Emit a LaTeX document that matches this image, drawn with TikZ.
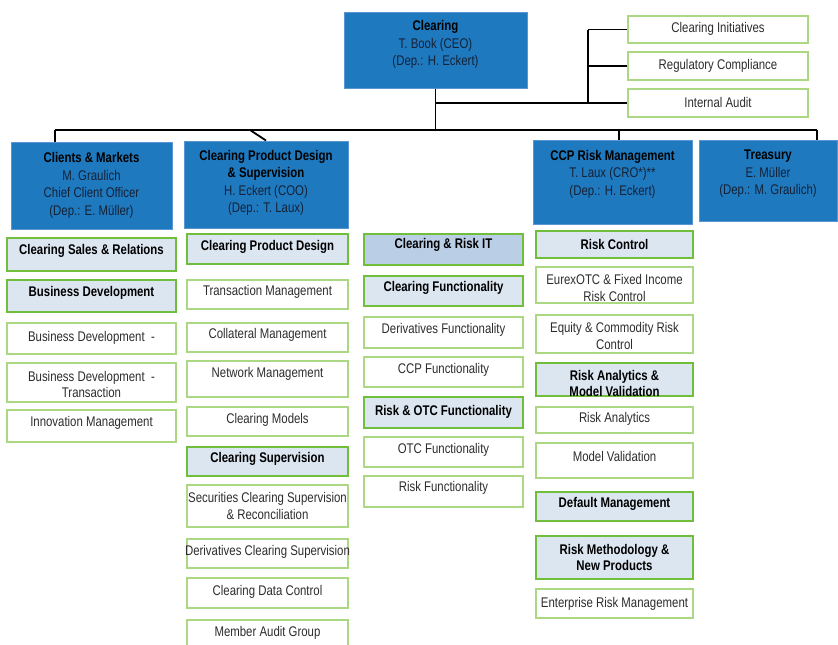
\documentclass[tikz,border=0pt]{standalone}
\usepackage{fontspec}
\setmainfont{Liberation Sans}[FakeStretch=0.815]
\definecolor{cblue}{RGB}{31,121,191}
\definecolor{cblueb}{RGB}{90,150,210}
\definecolor{cgreen}{RGB}{112,190,60}
\definecolor{cgreenl}{RGB}{172,216,132}
\definecolor{clight}{RGB}{220,230,241}
\definecolor{cmid}{RGB}{186,206,230}
\definecolor{ctext}{RGB}{45,45,45}
\definecolor{cnavy}{RGB}{20,34,54}
\newcommand\obox[9]{%
  \node[#2, minimum width={(#6)-(#4)}, minimum height={(#7)-(#5)}] (#1) at ({((#4)+(#6))/2},{((#5)+(#7))/2}) {};
  \node[#3] (#1-t) at ([yshift=#8]#1.center) {#9};
}
\begin{document}
\begin{tikzpicture}[x=1pt,y=-1pt,
  bluebox/.style={draw=cblueb, line width=1pt, fill=cblue, inner sep=0pt},
  hbox/.style={draw=cgreen, line width=2.6pt, fill=clight, inner sep=0pt},
  itbox/.style={draw=cgreen, line width=2.6pt, fill=cmid, inner sep=0pt},
  sbox/.style={draw=cgreenl, line width=2pt, fill=white, inner sep=0pt},
  txt/.style={align=center, font=\fontsize{14}{16.5}\selectfont, text=ctext, inner sep=0pt},
  htxt/.style={txt, font=\fontsize{14}{16.5}\selectfont\bfseries, text=black},
  btxt/.style={align=center, font=\fontsize{14}{17.5}\selectfont, text=cnavy, inner sep=0pt},
  conn/.style={line width=1.8pt, draw=black}]
\useasboundingbox (0,0) rectangle (838,645);
\clip (0,0) rectangle (838,645);

% top level
\obox{ceo}{bluebox}{btxt}{344}{12}{527}{88}{5.5pt}{\textbf{\color{black}Clearing}\\T. Book (CEO)\\(Dep.: H. Eckert)}
\obox{ci}{sbox}{txt}{628}{16}{808}{43}{1pt}{Clearing Initiatives}
\obox{rc}{sbox}{txt}{628}{52}{808}{80}{0pt}{Regulatory Compliance}
\obox{ia}{sbox}{txt}{628}{89}{808}{117}{1pt}{Internal Audit}

% second level
\obox{cm}{bluebox}{btxt}{11}{142}{172}{229}{0pt}{\textbf{\color{black}Clients \& Markets}\\M. Graulich\\Chief Client Officer\\(Dep.: E. M\"uller)}
\obox{cpd}{bluebox}{btxt}{184}{141}{348}{228}{1.5pt}{\textbf{\color{black}Clearing Product Design}\\\textbf{\color{black}\& Supervision}\\H. Eckert (COO)\\(Dep.: T. Laux)}
\obox{ccp}{bluebox}{btxt}{533}{140}{692}{224}{8pt}{\textbf{\color{black}CCP Risk Management}\\T. Laux (CRO*)**\\(Dep.: H. Eckert)}
\obox{tr}{bluebox}{btxt}{699}{140}{837}{221}{6.5pt}{\textbf{\color{black}Treasury}\\E. M\"uller\\(Dep.: M. Graulich)}

% column 1
\obox{csr}{hbox}{htxt}{7}{238}{176}{271}{4pt}{Clearing Sales \& Relations}
\obox{bd}{hbox}{htxt}{7}{280}{176}{312}{3pt}{Business Development}
\obox{bda}{sbox}{txt}{7}{323}{176}{354}{1pt}{Business Development \ -}
\obox{bdb}{sbox}{txt}{7}{363}{176}{402}{-2pt}{Business Development \ -\\Transaction}
\obox{im}{sbox}{txt}{7}{410}{176}{442}{3pt}{Innovation Management}

% column 2
\obox{cpdh}{hbox}{htxt}{187}{234}{348}{264}{2pt}{Clearing Product Design}
\obox{tm}{sbox}{txt}{187}{280}{348}{309}{3pt}{Transaction Management}
\obox{colm}{sbox}{txt}{187}{323}{348}{352}{2.5pt}{Collateral Management}
\obox{nm}{sbox}{txt}{187}{361}{348}{397}{5pt}{Network Management}
\obox{clm}{sbox}{txt}{187}{407}{348}{436}{1.5pt}{Clearing Models}
\obox{csup}{hbox}{htxt}{187}{447}{348}{476}{2.5pt}{Clearing Supervision}
\obox{scs}{sbox}{txt}{187}{485}{348}{527}{0pt}{Securities Clearing Supervision\\\& Reconciliation}
\obox{dcs}{sbox}{txt}{187}{539}{348}{568}{2pt}{Derivatives Clearing Supervision}
\obox{cdc}{sbox}{txt}{187}{578}{348}{608}{1pt}{Clearing Data Control}
\obox{mag}{sbox}{txt}{187}{620}{348}{650}{2.5pt}{Member Audit Group}

% column 3
\obox{crit}{itbox}{htxt}{364}{234}{523}{265}{4.5pt}{Clearing \& Risk IT}
\obox{cf}{hbox}{htxt}{364}{276}{523}{306}{2.7pt}{Clearing Functionality}
\obox{df}{sbox}{txt}{364}{317}{523}{348}{2.5pt}{Derivatives Functionality}
\obox{ccpf}{sbox}{txt}{364}{357}{523}{387}{2pt}{CCP Functionality}
\obox{rof}{hbox}{htxt}{364}{397}{523}{428}{1pt}{Risk \& OTC Functionality}
\obox{otcf}{sbox}{txt}{364}{437}{523}{467}{2pt}{OTC Functionality}
\obox{rf}{sbox}{txt}{364}{476}{523}{507}{4pt}{Risk Functionality}

% column 4
\obox{rcon}{hbox}{htxt}{536}{231}{693}{258}{0pt}{Risk Control}
\obox{eur}{sbox}{txt}{536}{267}{693}{303}{-3pt}{EurexOTC \& Fixed Income\\Risk Control}
\obox{eq}{sbox}{txt}{536}{315}{693}{353}{-2pt}{Equity \& Commodity Risk\\Control}
\obox{ramv}{hbox}{htxt}{536}{363}{693}{396}{-4pt}{Risk Analytics \&\\Model Validation}
\obox{ra}{sbox}{txt}{536}{407}{693}{433}{1.5pt}{Risk Analytics}
\obox{mv}{sbox}{txt}{536}{443}{693}{478}{4pt}{Model Validation}
\obox{dm}{hbox}{htxt}{536}{492}{693}{521}{2.5pt}{Default Management}
\obox{rm}{hbox}{htxt}{536}{536}{693}{579}{0pt}{Risk Methodology \&\\New Products}
\obox{erm}{sbox}{txt}{536}{589}{693}{618}{0pt}{Enterprise Risk Management}

% connectors
\coordinate (stem) at (588,0);
\draw[conn] (stem |- ci.west) -- (stem |- ia.west);
\draw[conn] (stem |- ci.west) -- (ci.west);
\draw[conn] (stem |- rc.west) -- (rc.west);
\draw[conn] (ceo.south |- ia.west) -- (ia.west);

\coordinate (busL) at (55,130);
\coordinate (busR) at (817,130);
\coordinate (ccpd) at (619,130);
\coordinate (cpdb) at (250,130);
\draw[conn] (ceo.south) -- (ceo.south |- busL);
\draw[conn] (busL) -- (busR);
\draw[conn] (busL) -- (busL |- cm.north);
\draw[conn] (busR) -- (busR |- tr.north);
\draw[conn] (ccpd) -- (ccpd |- ccp.north);
\draw[conn] (cpdb) -- (cpd.north);
\end{tikzpicture}
\end{document}
